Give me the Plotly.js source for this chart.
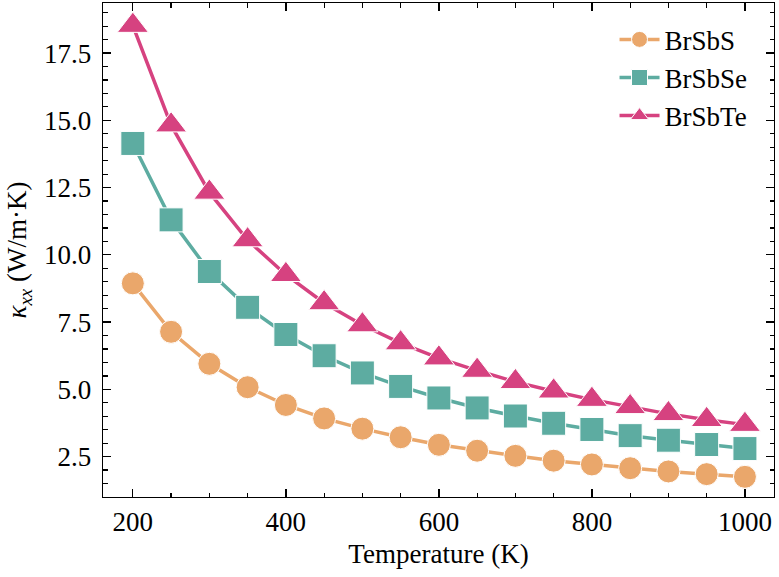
<!DOCTYPE html>
<html>
<head>
<meta charset="utf-8">
<script src="https://cdn.plot.ly/plotly-3.0.1.min.js"></script>
<style>
  html, body { margin: 0; padding: 0; background: #ffffff; }
  #chart { width: 779px; height: 577px; }
</style>
</head>
<body>
<div id="chart"></div>
<script>
// Lattice thermal conductivity vs temperature for the BrSbX family
const temperature = [200, 250, 300, 350, 400, 450, 500, 550, 600, 650, 700, 750, 800, 850, 900, 950, 1000];

const kappaBrSbS  = [8.94, 7.14, 5.95, 5.08, 4.42, 3.92, 3.54, 3.22, 2.94, 2.72, 2.53, 2.35, 2.21, 2.07, 1.95, 1.85, 1.75];
const kappaBrSbSe = [14.14, 11.30, 9.38, 8.05, 7.04, 6.25, 5.61, 5.11, 4.68, 4.31, 4.01, 3.74, 3.51, 3.28, 3.11, 2.95, 2.80];
const kappaBrSbTe = [18.52, 14.82, 12.32, 10.55, 9.26, 8.21, 7.39, 6.72, 6.16, 5.70, 5.28, 4.93, 4.62, 4.35, 4.09, 3.87, 3.69];

const seriesNames = ['BrSbS', 'BrSbSe', 'BrSbTe'];
const xTickVals = [200, 400, 600, 800, 1000];
const yTickVals = [2.5, 5.0, 7.5, 10.0, 12.5, 15.0, 17.5];

const colors = ['#EAA76B', '#5DACA1', '#D64280'];
const symbols = ['circle', 'square', 'triangle-up'];
const sizes = [23, 24, 27];
const values = [kappaBrSbS, kappaBrSbSe, kappaBrSbTe];

const FONT = '"Liberation Serif", "Times New Roman", Times, serif';
const FS = 27;

const traces = values.map((v, i) => ({
  x: temperature,
  y: v,
  name: seriesNames[i],
  legendgroup: seriesNames[i],
  type: 'scatter',
  mode: 'lines+markers',
  line: { color: colors[i], width: 3.5 },
  marker: {
    symbol: symbols[i],
    size: sizes[i],
    color: colors[i],
    line: { color: '#ffffff', width: 1 }
  }
}));

const axisCommon = {
  showline: true,
  linecolor: '#000000',
  linewidth: 1.3,
  mirror: 'allticks',
  ticks: 'inside',
  ticklen: 8,
  tickwidth: 1.3,
  tickcolor: '#000000',
  showgrid: false,
  zeroline: false,
  tickfont: { family: FONT, size: FS, color: '#000000' }
};

const layout = {
  width: 779,
  height: 577,
  margin: { l: 103, r: 5, t: 3, b: 80 },
  paper_bgcolor: '#ffffff',
  plot_bgcolor: '#ffffff',
  font: { family: FONT, size: FS, color: '#000000' },
  showlegend: true,
  legend: {
    x: 0.968, y: 0.975, xanchor: 'right', yanchor: 'top',
    bgcolor: 'rgba(0,0,0,0)',
    borderwidth: 0,
    font: { family: FONT, size: FS, color: '#000000' },
    tracegroupgap: 0,
    itemwidth: 40
  },
  xaxis: Object.assign({}, axisCommon, {
    range: [161, 1038],
    tickmode: 'array',
    tickvals: xTickVals,
    ticktext: xTickVals.map(String),
    ticklabelstandoff: 0,
    minor: { dtick: 50, tick0: 0, ticks: 'inside', ticklen: 4.5, tickwidth: 1.2, tickcolor: '#000000' },
    title: { text: 'Temperature (K)', font: { family: FONT, size: FS, color: '#000000' }, standoff: 8 }
  }),
  yaxis: Object.assign({}, axisCommon, {
    range: [1.0, 19.36],
    tickmode: 'array',
    tickvals: yTickVals,
    ticktext: yTickVals.map(v => v.toFixed(1)),
    ticklabelstandoff: 5,
    minor: { dtick: 0.5, tick0: 0, ticks: 'inside', ticklen: 4.5, tickwidth: 1.2, tickcolor: '#000000' },
    title: { text: '<i>κ</i><sub><i>xx</i></sub> (W/m·K)', font: { family: FONT, size: FS, color: '#000000' }, standoff: 9 }
  })
};

Plotly.newPlot('chart', traces, layout, { staticPlot: true, displayModeBar: false });
</script>
</body>
</html>
